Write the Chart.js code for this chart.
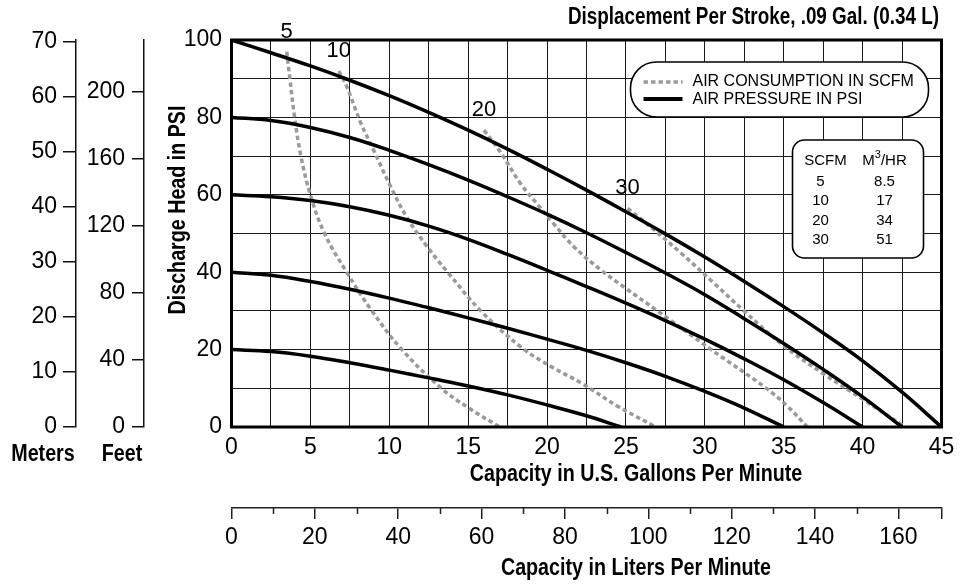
<!DOCTYPE html>
<html>
<head>
<meta charset="utf-8">
<script src="https://cdn.jsdelivr.net/npm/chart.js@4"></script>
<style>
  html, body { margin: 0; padding: 0; background: #fff; }
  #wrap { width: 965px; height: 584px; }
</style>
</head>
<body>
<div id="wrap"><canvas id="myChart"></canvas></div>
<script>
// air pressure curves: capacity (GPM) vs discharge head (PSI)
const gpmP100 = [0, 2.5, 5, 7.5, 10, 12.5, 15, 17.5, 20, 22.5, 25, 27.5, 30, 32.5, 35, 37.5, 40, 42.5, 45];
const psiP100 = [100, 96.7, 93.3, 89.6, 85.6, 81.3, 76.7, 71.8, 66.6, 61.2, 55.6, 49.9, 43.9, 37.6, 31.1, 24.3, 17.1, 9.0, 0];
const gpmP80 = [0, 2.5, 5, 7.5, 10, 12.5, 15, 17.5, 20, 22.5, 25, 27.5, 30, 32.5, 35, 37.5, 40, 42.5];
const psiP80 = [80, 79.2, 77.4, 74.8, 71.5, 67.8, 63.8, 59.5, 55.0, 50.2, 45.1, 39.8, 34.2, 28.0, 21.6, 14.9, 7.8, 0];
const gpmP60 = [0, 2.5, 5, 7.5, 10, 12.5, 15, 17.5, 20, 22.5, 25, 27.5, 30, 32.5, 35, 37.5, 40];
const psiP60 = [60, 59.5, 58.5, 56.9, 54.7, 51.9, 48.5, 44.6, 40.5, 36.3, 32.0, 27.5, 22.7, 17.6, 12.2, 6.3, 0];
const gpmP40 = [0, 2.5, 5, 7.5, 10, 12.5, 15, 17.5, 20, 22.5, 25, 27.5, 30, 32.5, 35];
const psiP40 = [40, 39.2, 37.6, 35.6, 33.3, 30.8, 28.2, 25.5, 22.7, 19.8, 16.6, 13.1, 9.2, 4.9, 0];
const gpmP20 = [0, 2.5, 5, 7.5, 10, 12.5, 15, 17.5, 20, 22.5, 24.7];
const psiP20 = [20, 19.5, 18.3, 16.6, 14.7, 12.7, 10.6, 8.3, 5.7, 2.9, 0];

// air consumption curves (SCFM)
const gpmS5 = [3.5, 3.7, 4.0, 4.4, 5.0, 5.9, 7.3, 8.9, 10.8, 13.3, 15.0, 17];
const psiS5 = [97, 90, 80, 70, 60, 50, 40, 30, 20, 10, 5, 0];
const gpmS10 = [6.8, 7.3, 8.2, 9.0, 10.1, 11.1, 12.4, 13.7, 15.8, 18.4, 20.3, 22.2, 24.5, 26.9];
const psiS10 = [92, 88, 78.5, 71.6, 62, 54.3, 46.6, 40, 30, 20.5, 15.5, 11.3, 5.3, 0];
const gpmS20 = [16, 17.1, 18.3, 19.6, 20.4, 21.7, 23.4, 25, 27, 30.4, 33.9, 35.2, 36.5];
const psiS20 = [76.7, 70.7, 63, 56.5, 52.6, 46.6, 40.6, 35.8, 30, 20, 10, 5.5, 0];
const gpmS30 = [25.1, 26.3, 28.5, 30.6, 32.4, 35, 37.5, 40, 42.7];
const psiS30 = [56.5, 52.6, 44.9, 37.1, 30.3, 21, 13.8, 7.2, 0];

const scfmValues = ["5", "10", "20", "30"];
const m3hrValues = ["8.5", "17", "34", "51"];
const legendLabels = ["AIR CONSUMPTION IN SCFM", "AIR PRESSURE IN PSI"];

// conversions for the secondary axes
const PSI_MAX = 100;
const GPM_MAX = 45;
const METERS_PER_PSI = 0.70307;
const FEET_PER_PSI = 2.3067;
const LITERS_PER_GAL = 3.7854;

function curve(xs, ys) {
  return xs.map((x, i) => ({ x: x, y: ys[i] }));
}

const psiCurves = [[gpmP100, psiP100], [gpmP80, psiP80], [gpmP60, psiP60], [gpmP40, psiP40], [gpmP20, psiP20]];
const scfmCurves = [[gpmS5, psiS5], [gpmS10, psiS10], [gpmS20, psiS20], [gpmS30, psiS30]];

const datasets = [];
scfmCurves.forEach((c, i) => {
  datasets.push({
    label: scfmValues[i] + " SCFM",
    data: curve(c[0], c[1]),
    borderColor: "#9a9a9a",
    borderWidth: 3.5,
    borderDash: [4.5, 3.2],
    pointRadius: 0,
    tension: 0.4,
    order: 1,
  });
});
psiCurves.forEach((c) => {
  datasets.push({
    label: c[1][0] + " PSI",
    data: curve(c[0], c[1]),
    borderColor: "#000",
    borderWidth: 3.5,
    pointRadius: 0,
    tension: 0.4,
    order: 0,
  });
});

const SANS = '"Liberation Sans", Arial, sans-serif';

function narrowText(c, text, x, y, size, align, rot) {
  c.save();
  c.translate(x, y);
  if (rot) c.rotate(rot);
  c.scale(0.82, 1);
  c.font = "bold " + size + "px " + SANS;
  c.textAlign = align;
  c.textBaseline = "middle";
  c.fillStyle = "#000";
  c.fillText(text, 0, 0);
  c.restore();
}

function roundBox(c, x1, y1, x2, y2, r) {
  c.beginPath();
  c.moveTo(x1 + r, y1);
  c.lineTo(x2 - r, y1);
  c.arcTo(x2, y1, x2, y1 + r, r);
  c.lineTo(x2, y2 - r);
  c.arcTo(x2, y2, x2 - r, y2, r);
  c.lineTo(x1 + r, y2);
  c.arcTo(x1, y2, x1, y2 - r, r);
  c.lineTo(x1, y1 + r);
  c.arcTo(x1, y1, x1 + r, y1, r);
  c.closePath();
  c.fillStyle = "#fff";
  c.fill();
  c.lineWidth = 1.6;
  c.strokeStyle = "#000";
  c.stroke();
}

const overlay = {
  id: "overlay",
  afterDraw(chart) {
    const c = chart.ctx;
    const a = chart.chartArea;
    const xs = chart.scales.x;
    const ys = chart.scales.y;
    const ls = chart.scales.liters;
    c.save();

    // plot frame
    c.lineWidth = 3;
    c.strokeStyle = "#000";
    c.strokeRect(a.left, a.top, a.right - a.left, a.bottom - a.top);

    // labels on the SCFM curves
    c.font = "22px " + SANS;
    c.fillStyle = "#000";
    c.textAlign = "center";
    c.textBaseline = "middle";
    scfmCurves.forEach((cv, i) => {
      const px = xs.getPixelForValue(cv[0][0]);
      const py = ys.getPixelForValue(cv[1][0]);
      c.fillText(scfmValues[i], px, py - 20);
    });

    // legend pill
    const lx1 = a.right - 311, lx2 = a.right - 13, ly1 = a.top + 22, ly2 = a.top + 77;
    roundBox(c, lx1, ly1, lx2, ly2, 26);
    c.lineWidth = 3.5;
    c.strokeStyle = "#9a9a9a";
    c.setLineDash([4.5, 3]);
    c.beginPath();
    c.moveTo(lx1 + 13, ly1 + 20);
    c.lineTo(lx1 + 52, ly1 + 20);
    c.stroke();
    c.setLineDash([]);
    c.strokeStyle = "#000";
    c.lineWidth = 4;
    c.beginPath();
    c.moveTo(lx1 + 13, ly1 + 37);
    c.lineTo(lx1 + 52, ly1 + 37);
    c.stroke();
    c.font = "16px " + SANS;
    c.textAlign = "left";
    c.fillStyle = "#000";
    c.fillText(legendLabels[0], lx1 + 62, ly1 + 20);
    c.fillText(legendLabels[1], lx1 + 62, ly1 + 38);

    // SCFM / M3/HR table
    const tx1 = a.right - 149, tx2 = a.right - 18, ty1 = a.top + 100, ty2 = a.top + 218;
    roundBox(c, tx1, ty1, tx2, ty2, 12);
    c.font = "15px " + SANS;
    c.fillStyle = "#000";
    c.textAlign = "center";
    const col1 = tx1 + 33, col2 = tx1 + 92;
    c.fillText("SCFM", col1, ty1 + 21);
    c.textAlign = "left";
    const mW = c.measureText("M").width;
    c.font = "11px " + SANS;
    const sW = c.measureText("3").width;
    c.font = "15px " + SANS;
    const hW = c.measureText("/HR").width;
    const start = col2 - (mW + sW + hW) / 2;
    c.fillText("M", start, ty1 + 21);
    c.font = "11px " + SANS;
    c.fillText("3", start + mW, ty1 + 15);
    c.font = "15px " + SANS;
    c.fillText("/HR", start + mW + sW, ty1 + 21);
    c.textAlign = "center";
    scfmValues.forEach((v, i) => {
      c.fillText(v, col1 - 5, ty1 + 41.5 + i * 19.5);
      c.fillText(m3hrValues[i], col2, ty1 + 41.5 + i * 19.5);
    });

    // short minor ticks on the liters axis
    c.strokeStyle = "#222";
    c.lineWidth = 1.5;
    for (let v = 10; v < 160; v += 20) {
      const px = Math.round(ls.getPixelForValue(v)) + 0.5;
      c.beginPath();
      c.moveTo(px, ls.top);
      c.lineTo(px, ls.top + 6);
      c.stroke();
    }
    c.restore();

    // titles
    narrowText(c, "Displacement Per Stroke, .09 Gal. (0.34 L)", 939, 18, 23, "right");
    narrowText(c, "Capacity in U.S. Gallons Per Minute", 636, 474, 24, "center");
    narrowText(c, "Capacity in Liters Per Minute", 636, 568, 24, "center");
    narrowText(c, "Discharge Head in PSI", 178, 210, 24, "center", -Math.PI / 2);
    const ms = chart.scales.meters;
    const fs = chart.scales.feet;
    narrowText(c, "Meters", ms.right - 33, 454, 24, "center");
    narrowText(c, "Feet", fs.right - 22, 454, 24, "center");
  },
};

Chart.defaults.font.family = SANS;
Chart.defaults.font.size = 23;
Chart.defaults.color = "#000";

const sideGrid = { drawOnChartArea: false, drawTicks: true, color: "#111", lineWidth: 1.5 };

const ctx = document.getElementById("myChart");
const config = {
  type: "line",
  data: { datasets: datasets },
  options: {
    responsive: true,
    maintainAspectRatio: false,
    animation: false,
    layout: { padding: { left: 0, right: 23.5, top: 40, bottom: 0 } },
    plugins: {
      legend: { display: false },
      tooltip: { enabled: false },
    },
    scales: {
      x: {
        type: "linear",
        position: "bottom",
        weight: 0,
        min: 0,
        max: GPM_MAX,
        grid: { color: "#1a1a1a", lineWidth: 1, drawTicks: false },
        border: { display: false },
        ticks: {
          stepSize: 2.5,
          autoSkip: false,
          maxRotation: 0,
          padding: 7,
          callback: (v) => (v % 5 === 0 ? v : ""),
        },
        afterFit: (s) => { s.height = 81; },
      },
      liters: {
        type: "linear",
        position: "bottom",
        weight: 1,
        min: 0,
        max: GPM_MAX * LITERS_PER_GAL,
        grid: Object.assign({}, sideGrid, {
          tickLength: 11,
          color: "#222",
          // long ticks every 20 L and at the end; the short ones are drawn by the overlay
          tickColor: (c) => (c.tick && (c.tick.value % 20 === 0 || c.tick.value > 165) ? "#222" : "rgba(0,0,0,0)"),
        }),
        border: { display: true, color: "#222", width: 1.5 },
        ticks: {
          stepSize: 10,
          autoSkip: false,
          maxRotation: 0,
          padding: 5,
          callback: (v) => (v % 20 === 0 ? v : ""),
        },
        afterFit: (s) => { s.height = 76; },
      },
      y: {
        type: "linear",
        position: "left",
        weight: 1,
        min: 0,
        max: PSI_MAX,
        grid: { color: "#1a1a1a", lineWidth: 1, drawTicks: false },
        border: { display: false },
        ticks: {
          stepSize: 10,
          padding: 9.5,
          callback: (v) => (v % 20 === 0 ? v : ""),
        },
        afterFit: (s) => { s.width = 87.5; },
      },
      feet: {
        type: "linear",
        position: "left",
        weight: 2,
        min: 0,
        max: PSI_MAX * FEET_PER_PSI,
        grid: Object.assign({}, sideGrid, { tickLength: 12 }),
        border: { display: true, color: "#111", width: 1.5 },
        ticks: { stepSize: 40, includeBounds: false, padding: 7 },
        afterFit: (s) => { s.width = 68; },
      },
      meters: {
        type: "linear",
        position: "left",
        weight: 3,
        min: 0,
        max: PSI_MAX * METERS_PER_PSI,
        grid: Object.assign({}, sideGrid, { tickLength: 13 }),
        border: { display: true, color: "#111", width: 1.5 },
        ticks: { stepSize: 10, includeBounds: false, padding: 6 },
        afterFit: (s) => { s.width = 76; },
      },
    },
  },
  plugins: [overlay],
};

const myChart = new Chart(ctx, config);
</script>
</body>
</html>
